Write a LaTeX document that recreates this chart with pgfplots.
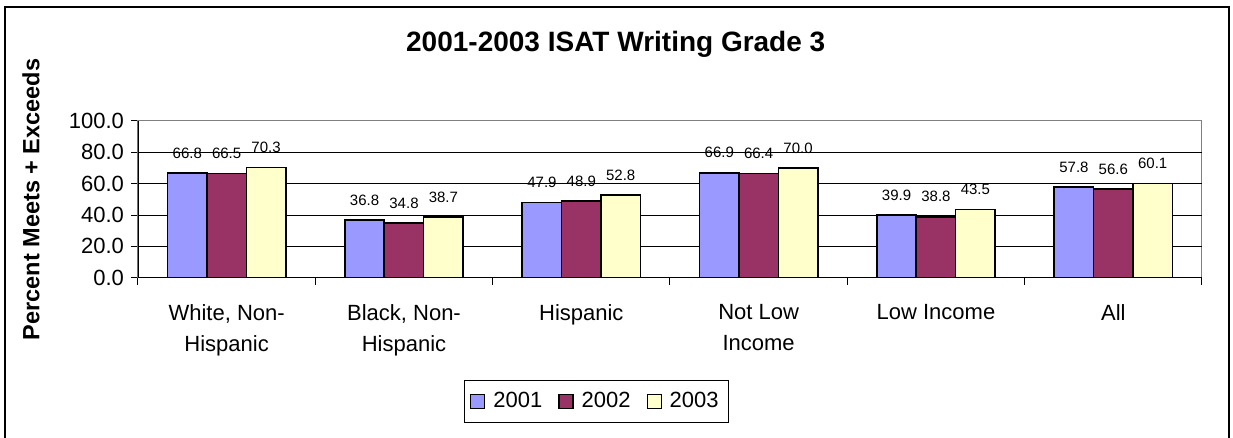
\documentclass[border=0pt]{standalone}
\usepackage{pgfplots}
\pgfplotsset{compat=1.18}
\usepackage{fontspec}
\setmainfont{Liberation Sans}
\definecolor{cblue}{HTML}{9999FF}
\definecolor{cred}{HTML}{993366}
\definecolor{cyel}{HTML}{FFFFCC}
\definecolor{cgray}{HTML}{808080}
\begin{document}
\begin{tikzpicture}
\path[use as bounding box] (0pt,0pt) rectangle (616.5pt,219pt);
\draw[line width=0.8pt] (2.5pt,-3pt) -- (2.5pt,215.5pt) -- (614.5pt,215.5pt) -- (614.5pt,-3pt);
\begin{axis}[
  at={(69pt,80.15pt)}, anchor=south west,
  width=532pt, height=78.35pt, scale only axis,
  ybar=0pt, bar width=19.7pt,
  xmin=-0.5, xmax=5.5, ymin=0, ymax=100,
  /pgf/number format/assume math mode=true,
  axis line style={draw=cgray, line width=0.5pt},
  tick align=outside,
  xtick pos=bottom, ytick pos=left,
  major tick length=3.5pt,
  tick style={black, line width=0.5pt},
  ytick={0,20,...,100},
  yticklabel style={font=\fontsize{11}{12}\selectfont, /pgf/number format/.cd, fixed, fixed zerofill, precision=1},
  xtick={-0.5,0.5,...,5.5},
  xticklabels={},
  extra x ticks={0,1,2,3,4,5},
  extra x tick labels={{White, Non-\\Hispanic},{Black, Non-\\Hispanic},{Hispanic},{Not Low\\Income},{Low Income},{All}},
  extra x tick style={major tick length=0pt, tick style={draw=none}},
  xticklabel style={align=center, font=\fontsize{11}{15.5}\selectfont, yshift=-10pt},
  extra y ticks={20,40,60,80},
  extra y tick labels={},
  extra y tick style={grid=major, major tick length=0pt},
  major grid style={black, line width=0.5pt},
  title={2001-2003 ISAT Writing Grade 3},
  title style={at={(axis description cs:0.449,1.498)}, anchor=center, yshift=-6.5pt, font=\bfseries\fontsize{14}{16}\selectfont},
  ylabel={Percent Meets + Exceeds},
  ylabel style={at={(axis description cs:-0.1006,0.5)}, anchor=center, font=\bfseries\fontsize{11.75}{13}\selectfont},
  nodes near coords,
  nodes near coords style={font=\fontsize{7.5}{9}\selectfont, anchor=south, inner sep=0pt, yshift=7pt, /pgf/number format/.cd, fixed, fixed zerofill, precision=1},
  legend columns=-1,
  legend style={at={(axis description cs:0.4309,-0.790)}, anchor=center, draw=black, line width=0.5pt, font=\fontsize{11}{12}\selectfont, inner xsep=3pt, inner ysep=4pt,
    /tikz/every odd column/.style={column sep=2pt},
    /tikz/every even column/.style={column sep=6pt}},
]
\addplot[fill=cblue, draw=black, line width=0.8pt, legend image code/.code={\draw[fill=cblue, draw=black, line width=0.6pt] (0pt,-3.5pt) rectangle (7pt,3.5pt);}] coordinates {(0,66.8) (1,36.8) (2,47.9) (3,66.9) (4,39.9) (5,57.8)};
\addplot[fill=cred, draw=black, line width=0.8pt, legend image code/.code={\draw[fill=cred, draw=black, line width=0.6pt] (0pt,-3.5pt) rectangle (7pt,3.5pt);}] coordinates {(0,66.5) (1,34.8) (2,48.9) (3,66.4) (4,38.8) (5,56.6)};
\addplot[fill=cyel, draw=black, line width=0.8pt, legend image code/.code={\draw[fill=cyel, draw=black, line width=0.6pt] (0pt,-3.5pt) rectangle (7pt,3.5pt);}] coordinates {(0,70.3) (1,38.7) (2,52.8) (3,70.0) (4,43.5) (5,60.1)};
\legend{2001,2002,2003}
\draw[black, line width=0.6pt] (rel axis cs:0,0) -- (rel axis cs:1,0);
\draw[black, line width=0.6pt] (rel axis cs:0,0) -- (rel axis cs:0,1);
\end{axis}
\end{tikzpicture}
\end{document}
